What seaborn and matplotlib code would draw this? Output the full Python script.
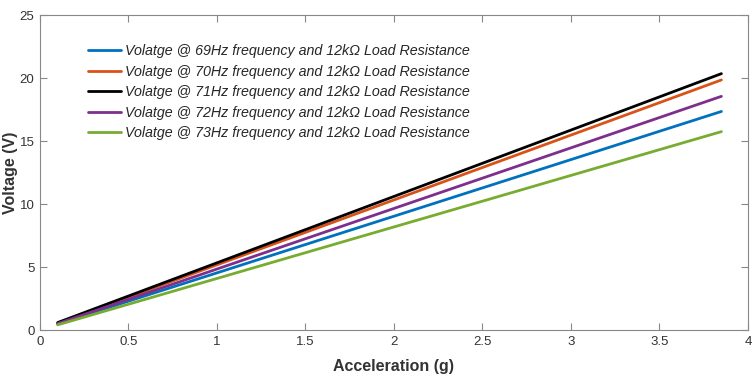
import matplotlib
matplotlib.use("Agg")
import matplotlib.pyplot as plt
import seaborn as sns
import pandas as pd

# Data
accel = [0.1, 3.85]
v69 = [0.5, 17.35]
v70 = [0.55, 19.85]
v71 = [0.6, 20.35]
v72 = [0.52, 18.55]
v73 = [0.42, 15.75]
labels = [
    "Volatge @ 69Hz frequency and 12kΩ Load Resistance",
    "Volatge @ 70Hz frequency and 12kΩ Load Resistance",
    "Volatge @ 71Hz frequency and 12kΩ Load Resistance",
    "Volatge @ 72Hz frequency and 12kΩ Load Resistance",
    "Volatge @ 73Hz frequency and 12kΩ Load Resistance",
]
colors = ["#0072BD", "#D95319", "#000000", "#7E2F8E", "#77AC30"]
xticks = [0, 0.5, 1, 1.5, 2, 2.5, 3, 3.5, 4]
yticks = [0, 5, 10, 15, 20, 25]

sns.set_theme(style="white")
plt.rcParams["font.family"] = ["Liberation Sans", "DejaVu Sans"]

rows = []
for lab, vals in zip(labels, [v69, v70, v71, v72, v73]):
    for x, y in zip(accel, vals):
        rows.append({"Acceleration": x, "Voltage": y, "Series": lab})
df = pd.DataFrame(rows)

fig = plt.figure(figsize=(7.54, 3.76), dpi=100)
ax = fig.add_axes([0.053, 0.122, 0.939, 0.838])
sns.lineplot(data=df, x="Acceleration", y="Voltage", hue="Series",
             hue_order=labels, palette=colors, linewidth=2, ax=ax)

ax.set_xlim(0, 4)
ax.set_ylim(0, 25)
ax.set_xticks(xticks)
ax.set_xticklabels([f"{t:g}" for t in xticks])
ax.set_yticks(yticks)
ax.set_yticklabels([f"{t:g}" for t in yticks])
ax.tick_params(direction="in", length=5, width=0.8, color="#888888",
               top=True, right=True, bottom=True, left=True,
               labelsize=9.5, labelcolor="#333333", pad=4)
for s in ax.spines.values():
    s.set_color("#888888")
    s.set_linewidth(0.8)
ax.set_xlabel("Acceleration (g)", fontsize=11.5, fontweight="bold", color="#333333", labelpad=8)
ax.set_ylabel("Voltage (V)", fontsize=11.5, fontweight="bold", color="#333333", labelpad=1)

leg = ax.legend(loc="upper left", bbox_to_anchor=(0.06, 0.925), frameon=False,
                fontsize=10.3, handlelength=2.3, handletextpad=0.3, labelspacing=0.45,
                borderaxespad=0)
for t in leg.get_texts():
    t.set_fontstyle("italic")
for l in leg.get_lines():
    l.set_linewidth(2)

fig.savefig("out.png", dpi=100)
